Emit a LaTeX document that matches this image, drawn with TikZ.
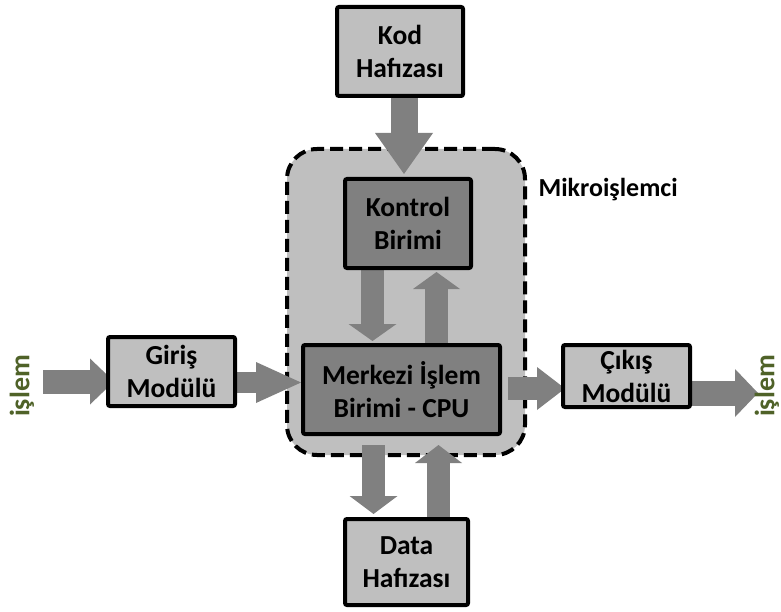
\documentclass[tikz,border=0pt]{standalone}
\usepackage{fontspec}
\setmainfont{Carlito}
\usetikzlibrary{arrows.meta,calc}
\pgfdeclarelayer{bg}
\pgfdeclarelayer{arr}
\pgfsetlayers{bg,arr,main}
\definecolor{boxgray}{HTML}{BFBFBF}
\definecolor{unitgray}{HTML}{808080}
\definecolor{arrowgray}{HTML}{808080}
\definecolor{iogreen}{HTML}{4F6228}
\tikzset{
  lbl/.style={font=\bfseries\fontsize{26}{32}\selectfont, align=center, text=black},
  block/.style={font=\bfseries\fontsize{27.5}{33}\selectfont, align=center, text=black,
    draw=black, line width=4pt, rounded corners=2pt, fill=boxgray, inner sep=0pt},
  unit/.style={block, fill=unitgray},
  cpuarea/.style={draw=black, line width=4pt, dash pattern=on 13pt off 6pt, rounded corners=30pt, fill=boxgray, inner sep=0pt},
  iolbl/.style={font=\bfseries\fontsize{28}{32}\selectfont, text=iogreen, rotate=90},
  fat/.style n args={3}{draw=arrowgray, line width=#1, -{Triangle[width=#2,length=#3,line width=0pt]}},
}
\begin{document}
\begin{tikzpicture}[x=1pt,y=-1pt]
\useasboundingbox (0,0) rectangle (781,612);

% processor outline
\begin{pgfonlayer}{bg}
  \node[cpuarea, minimum width=238pt, minimum height=306pt] (mikro) at (406,302) {};
\end{pgfonlayer}
\node[lbl, anchor=west] (mlbl) at (535,190) {Mikroişlemci};

% units
\node[block, minimum width=126pt, minimum height=89pt] (kod) at (400,51.5) {Kod\\Hafızası};
\node[unit, minimum width=126pt, minimum height=89pt] (kontrol) at (408,223.5) {Kontrol\\Birimi};
\node[unit, minimum width=197pt, minimum height=89pt] (merkezi) at (401.5,389.5) {Merkezi İşlem\\Birimi - CPU};
\node[block, minimum width=127pt, minimum height=69pt] (giris) at (171.5,371.5) {Giriş\\Modülü};
\node[block, minimum width=127pt, minimum height=62pt] (cikis) at (626.5,376) {Çıkış\\Modülü};
\node[block, minimum width=123pt, minimum height=86pt] (data) at (406.5,562) {Data\\Hafızası};

% input / output labels
\node[iolbl] (inlbl) at (22,386) {işlem};
\node[iolbl] (outlbl) at (767,386) {işlem};
\coordinate (src) at (43,381.5);
\coordinate (snk) at (758,393);

% data flow
\begin{pgfonlayer}{arr}
  \draw[fat={27pt}{58pt}{41pt}] ([xshift=4pt]kod.south) -- ([xshift=4pt,yshift=3pt]kod.south |- kontrol.north);
  \draw[fat={23pt}{48pt}{17pt}] ([xshift=-35.5pt]kontrol.south) -- ([xshift=-35.5pt,yshift=2pt]kontrol.south |- merkezi.north);
  \draw[fat={23pt}{47pt}{17pt}] ([xshift=28.5pt]kontrol.south |- merkezi.north) -- ([xshift=28.5pt,yshift=-2pt]kontrol.south);
  \draw[fat={23pt}{48pt}{18pt}] ([xshift=-33pt,yshift=-9pt]data.north |- merkezi.south) -- ([xshift=-33pt,yshift=3pt]data.north);
  \draw[fat={23pt}{47pt}{18pt}] ([xshift=32pt]data.north) -- ([xshift=32pt,yshift=-9pt]data.north |- merkezi.south);
  \draw[fat={24pt}{46pt}{24pt}] (src) -- ([xshift=8pt]src -| giris.west);
  \draw[fat={21pt}{41pt}{45pt}] ([yshift=-11pt]giris.east) -- ([yshift=-11pt]giris.east -| merkezi.west);
  \draw[fat={23pt}{43pt}{28pt}] ([xshift=6pt,yshift=1pt]merkezi.east) -- ([xshift=4pt,yshift=1pt]merkezi.east -| cikis.west);
  \draw[fat={25pt}{48pt}{23pt}] (cikis.east |- snk) -- (snk);
\end{pgfonlayer}
\end{tikzpicture}
\end{document}
